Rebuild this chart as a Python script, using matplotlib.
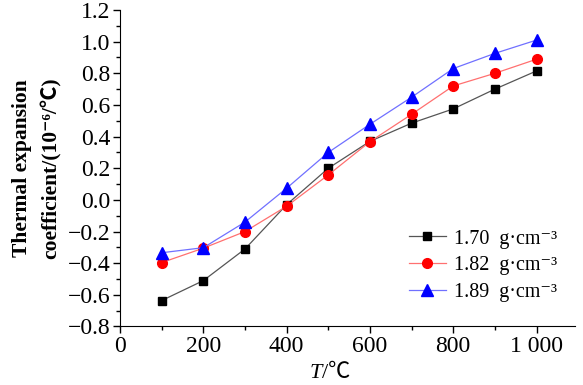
import numpy as np
import matplotlib
matplotlib.use("Agg")
import matplotlib.pyplot as plt
from matplotlib.ticker import MultipleLocator, FuncFormatter

plt.rcParams['font.family'] = ['Liberation Serif', 'Noto Sans CJK SC', 'DejaVu Sans']

# temperatures and expansion coefficients
temps = [100, 200, 300, 400, 500, 600, 700, 800, 900, 1000]
cte_170 = [-0.636, -0.51, -0.31, -0.03, 0.20, 0.37, 0.485, 0.575, 0.70, 0.815]
cte_182 = [-0.396, -0.305, -0.20, -0.04, 0.158, 0.368, 0.541, 0.72, 0.80, 0.889]
cte_189 = [-0.334, -0.302, -0.14, 0.074, 0.30, 0.478, 0.649, 0.83, 0.926, 1.01]
labels = ['1.70  g·cm⁻³', '1.82  g·cm⁻³', '1.89  g·cm⁻³']

fig = plt.figure(figsize=(5.83, 3.85), dpi=100)
ax = fig.add_axes([0.206, 0.152, 0.78, 0.822])

ax.plot(temps, cte_170, color='#555555', lw=0.9, marker='s', ms=6,
        mfc='black', mec='black', label=labels[0])
ax.plot(temps, cte_182, color='#ff7070', lw=0.9, marker='o', ms=7,
        mfc='red', mec='red', label=labels[1])
ax.plot(temps, cte_189, color='#7070ff', lw=0.9, marker='^', ms=8,
        mfc='blue', mec='blue', label=labels[2])

ax.set_xlim(0, 1092)
ax.set_ylim(-0.8, 1.2)
ax.xaxis.set_major_locator(MultipleLocator(200))
ax.xaxis.set_minor_locator(MultipleLocator(100))
ax.yaxis.set_major_locator(MultipleLocator(0.2))
ax.yaxis.set_minor_locator(MultipleLocator(0.1))
ax.xaxis.set_major_formatter(FuncFormatter(lambda v, p: '1 000' if v == 1000 else f'{v:.0f}'))
ax.yaxis.set_major_formatter(FuncFormatter(lambda v, p: f'{v:.1f}'.replace('-', '−')))

ax.spines['top'].set_visible(False)
ax.spines['right'].set_visible(False)
ax.tick_params(which='major', direction='out', length=5, width=1, labelsize=17, pad=2)
ax.tick_params(which='minor', direction='out', length=3, width=1)

ax.set_ylabel('Thermal expansion\ncoefficient/(10⁻⁶/℃)', fontsize=15.5,
              fontweight='bold', linespacing=1.55, labelpad=4)

# x label with italic T
ax.text(0.444, -0.12, 'T', transform=ax.transAxes, fontsize=16,
        style='italic', ha='right', va='top')
ax.text(0.444, -0.12, '/℃', transform=ax.transAxes, fontsize=16,
        ha='left', va='top')

ax.legend(loc='lower right', bbox_to_anchor=(1.0, 0.02), frameon=False,
          fontsize=14.5, handlelength=1.8, handletextpad=0.4, labelspacing=0.38)

fig.savefig('out.png', dpi=100)
